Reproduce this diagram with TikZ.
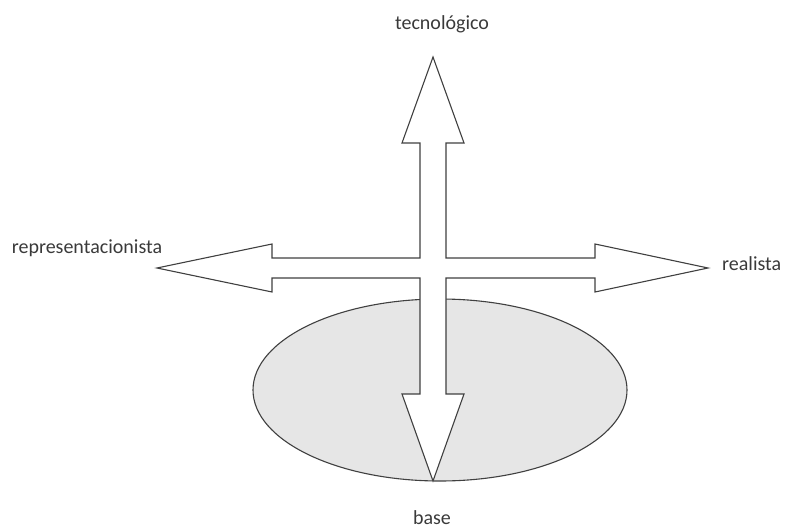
\documentclass[tikz,border=0pt]{standalone}
\usepackage{fontspec}
\setmainfont{Carlito}
\usepackage{tikz}
\usetikzlibrary{positioning, shapes.geometric}
\definecolor{axgray}{HTML}{404040}
\definecolor{axtext}{HTML}{3A3A3A}
\definecolor{axfill}{HTML}{E6E6E6}

\begin{document}
\begin{tikzpicture}[
  x=1pt, y=1pt,
  axis/.style={draw=axgray, line width=1.1pt, fill=white, line join=miter},
  basezone/.style={ellipse, draw=axgray, line width=1.1pt, fill=axfill,
    minimum width=374pt, minimum height=182pt, inner sep=0pt},
  axlabel/.style={font=\fontsize{20}{24}\selectfont, text=axtext,
    inner sep=0pt, anchor=base},
]
\useasboundingbox (0,0) rectangle (786,528);

% --- base ellipse ---
\node[basezone] (zone) at (440,138) {};

% --- arrow tips ---
\coordinate (up) at (433,471);
\coordinate (down) at (433,47);
\coordinate (left) at (157,260);
\coordinate (right) at (708,260);

% --- cross of arrows ---
\draw[axis] (up) -- (464,385) -- (446,385) -- (446,270)
  -- (595,270) -- (595,284) -- (right) -- (595,236) -- (595,250)
  -- (446,250) -- (446,134) -- (464,134) -- (down) -- (402,134)
  -- (420,134) -- (420,250) -- (272,250) -- (272,236) -- (left)
  -- (272,284) -- (272,270) -- (420,270) -- (420,385) -- (402,385)
  -- cycle;

% --- labels ---
\node[axlabel] (tec) at (442,498) {tecnológico};
\node[axlabel] (rep) at (87,275) {representacionista};
\node[axlabel, anchor=base west] (rea) at (722,258) {realista};
\node[axlabel] (bas) at (432,4) {base};

\end{tikzpicture}
\end{document}
